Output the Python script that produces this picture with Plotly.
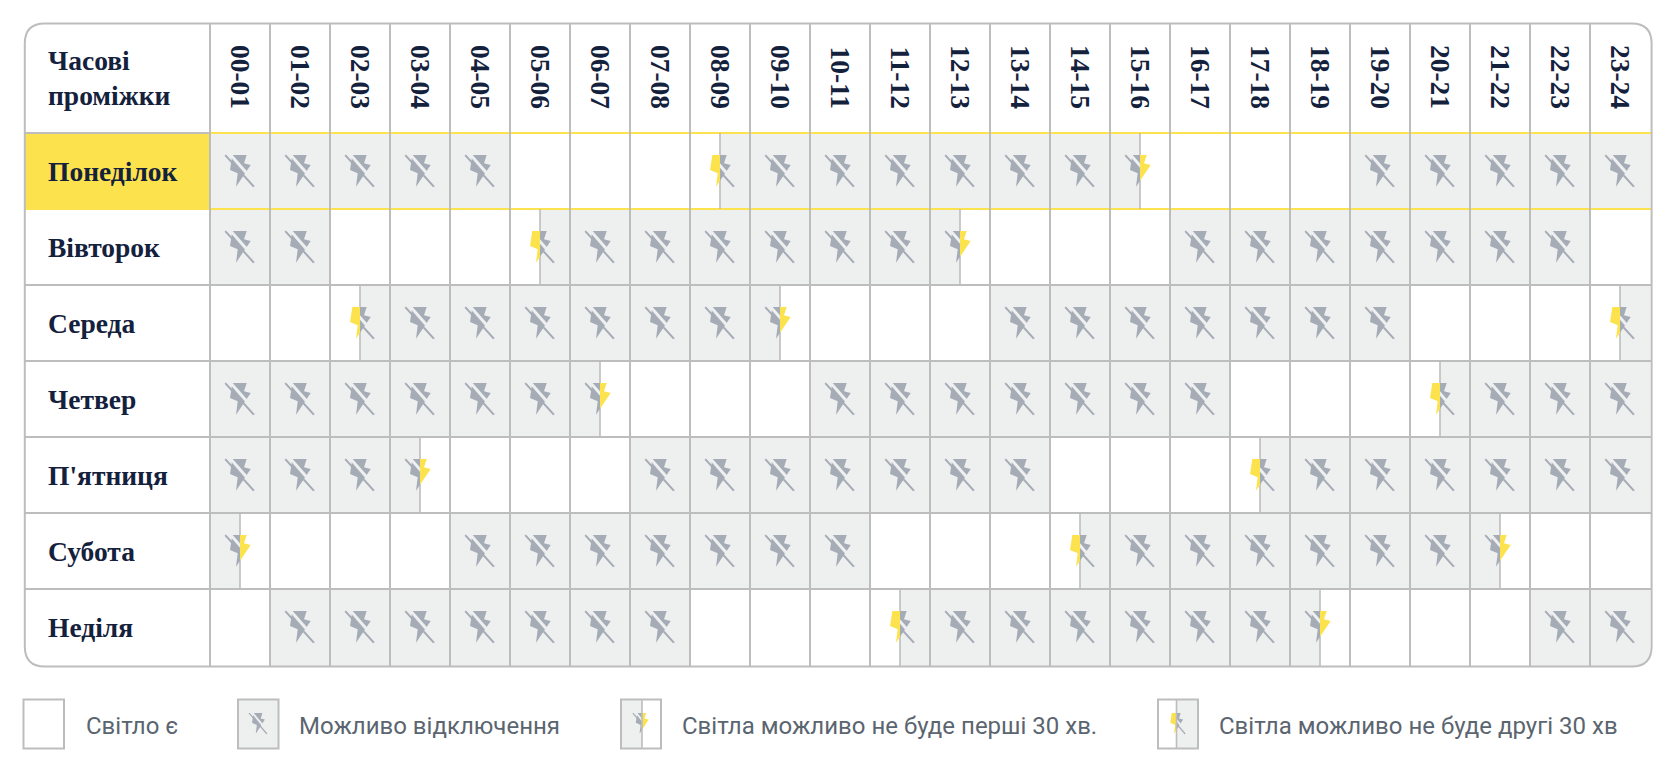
import plotly.graph_objects as go

HOURS = ["00-01","01-02","02-03","03-04","04-05","05-06","06-07","07-08","08-09","09-10","10-11","11-12",
         "12-13","13-14","14-15","15-16","16-17","17-18","18-19","19-20","20-21","21-22","22-23","23-24"]
DAYS = ["Понеділок","Вівторок","Середа","Четвер","П'ятниця","Субота","Неділя"]
HEADER_LINES = ["Часові","проміжки"]
LEGEND_LABELS = ["Світло є","Можливо відключення","Світла можливо не буде перші 30 хв.","Світла можливо не буде другі 30 хв"]

# w = power on, g = possible outage, f = out first 30 min, s = out second 30 min
MON = list("gggggwwwsggggggfwwwggggg")
TUE = list("ggwwwsggggggfwwwgggggggw")
WED = list("wwsggggggfwwwgggggggwwws")
THU = list("ggggggfwwwgggggggwwwsggg")
FRI = list("gggfwwwgggggggwwwsgggggg")
SAT = list("fwwwgggggggwwwsggggggfww")
SUN = list("wgggggggwwwsggggggfwwwgg")
SCHEDULE = [MON, TUE, WED, THU, FRI, SAT, SUN]

W, H = 1678, 776
L, R, T, B = 210, 1650, 133, 667
RH_PX = 76
CW = (R - L) / 24
Y_MAX = (B - T) / RH_PX
GRID, YEL, BG, ICON, NAVY, MUTED = "#bdbdbd", "#fce34d", "#eef0f0", "#a6acb6", "#14213d", "#5b6570"
SERIF, SANS = "Liberation Serif", "Roboto"

BOLT = [(-7.7,-16),(6.7,-16),(4,-7.7),(10.7,-6),(-4,15.7),(-2.3,2.3),(-10,-1)]
SLASH = [(-15.5,-15.2),(-14,-16.4),(14.8,15.2),(13,16.2)]
GAP = [(-12.5,-17.5),(-9.5,-18.5),(16.5,11),(14.5,13.5)]


def px(x): return (x - L) / (R - L)
def py(y): return 1 - (y - T) / (B - T)


def clip(poly, keep_left):
    """Clip a polygon to one side of the vertical line x = 0."""
    out = []
    inside = (lambda p: p[0] <= 0) if keep_left else (lambda p: p[0] >= 0)
    for i, a in enumerate(poly):
        b = poly[(i + 1) % len(poly)]
        if inside(a):
            out.append(a)
        if inside(a) != inside(b):
            t = a[0] / (a[0] - b[0])
            out.append((0, a[1] + t * (b[1] - a[1])))
    return out


def poly_shape(poly, color, conv, xref, yref):
    d = "M " + " L ".join(f"{conv[0](p[0])},{conv[1](p[1])}" for p in poly) + " Z"
    return dict(type="path", path=d, xref=xref, yref=yref, fillcolor=color, line=dict(width=0))


def icon_shapes(state, conv, xref, yref, bg=BG):
    grey_left = state == "f"
    if state == "g":
        polys = [(BOLT, ICON), (GAP, bg), (SLASH, ICON)]
    else:
        polys = [(clip(BOLT, not grey_left), YEL), (clip(BOLT, grey_left), ICON),
                 (clip(GAP, grey_left), bg), (clip(SLASH, grey_left), ICON)]
    return [poly_shape(p, c, conv, xref, yref) for p, c in polys if p]


# half-hour cells
z = []
for row in SCHEDULE:
    cells = []
    for s in row:
        cells += {"w": [0, 0], "g": [1, 1], "f": [1, 0], "s": [0, 1]}[s]
    z.append(cells)

fig = go.Figure(go.Heatmap(
    z=z, x=[i / 2 for i in range(49)], y=[0, 1, 2, 3, 4, 5, 6, Y_MAX],
    colorscale=[[0, "#ffffff"], [1, BG]], zmin=0, zmax=1, showscale=False, hoverinfo="skip"))

shapes = []
# Monday highlight
shapes.append(dict(type="rect", xref="paper", yref="paper", x0=px(24), x1=px(L), y0=py(T), y1=py(T + RH_PX),
                   fillcolor=YEL, line=dict(width=0)))
# horizontal rules
for i in range(2, 7):
    shapes.append(dict(type="line", xref="paper", yref="y", x0=px(24), x1=px(1652), y0=i, y1=i,
                       line=dict(color=GRID, width=2)))
shapes.append(dict(type="line", xref="paper", yref="paper", x0=px(24), x1=px(L), y0=py(T), y1=py(T),
                   line=dict(color=GRID, width=2)))
for i in (0, 1):
    yp = py(T + i * RH_PX)
    shapes.append(dict(type="line", xref="paper", yref="paper", x0=px(24 if i else L), x1=px(1652), y0=yp, y1=yp,
                       line=dict(color=YEL, width=2)))
# vertical rules
for c in range(24):
    shapes.append(dict(type="line", xref="paper", yref="paper", x0=px(L + c * CW), x1=px(L + c * CW),
                       y0=py(23), y1=py(B), line=dict(color=GRID, width=2)))
# half-cell dividers and icons
for r, row in enumerate(SCHEDULE):
    for c, s in enumerate(row):
        if s == "w":
            continue
        y1 = Y_MAX if r == 6 else r + 1
        if s in "fs":
            shapes.append(dict(type="line", x0=c + .5, x1=c + .5, y0=r, y1=y1, xref="x", yref="y",
                               line=dict(color=GRID, width=1.6)))
        cx = c + .5
        cy = r + .5
        conv = (lambda v, cx=cx: cx + v / CW, lambda v, cy=cy: cy + v / RH_PX)
        shapes += icon_shapes(s, conv, "x", "y")

# rounded corner masks and outer border
rad = 20
lft, rgt, top, bot = 24.8, 1651.6, 23.5, 666.6
for cxp, cyp, sx, sy in ((lft, top, -1, -1), (rgt, top, 1, -1), (lft, bot, -1, 1), (rgt, bot, 1, 1)):
    d = (f"M {px(cxp)},{py(cyp - sy * rad)} L {px(cxp + sx * 3)},{py(cyp - sy * rad)} "
         f"L {px(cxp + sx * 3)},{py(cyp + sy * 3)} L {px(cxp - sx * rad)},{py(cyp + sy * 3)} "
         f"L {px(cxp - sx * rad)},{py(cyp)} Q {px(cxp)},{py(cyp)} {px(cxp)},{py(cyp - sy * rad)} Z")
    shapes.append(dict(type="path", path=d, xref="paper", yref="paper", fillcolor="#ffffff", line=dict(width=0)))
border = (f"M {px(lft + rad)},{py(top)} L {px(rgt - rad)},{py(top)} Q {px(rgt)},{py(top)} {px(rgt)},{py(top + rad)} "
          f"L {px(rgt)},{py(bot - rad)} Q {px(rgt)},{py(bot)} {px(rgt - rad)},{py(bot)} "
          f"L {px(lft + rad)},{py(bot)} Q {px(lft)},{py(bot)} {px(lft)},{py(bot - rad)} "
          f"L {px(lft)},{py(top + rad)} Q {px(lft)},{py(top)} {px(lft + rad)},{py(top)} Z")
shapes.append(dict(type="path", path=border, xref="paper", yref="paper", line=dict(color=GRID, width=2)))

# legend swatches: (left, right, divider, state)
LEG_TOP, LEG_BOT = 699.5, 748.5
SWATCHES = [(23.5, 64, None, "w"), (238, 278.5, None, "g"), (621, 661, 642, "f"), (1158, 1198, 1176.5, "s")]
for x0, x1, div, s in SWATCHES:
    fills = {"g": (x0, x1), "f": (x0, div), "s": (div, x1)}
    if s in fills:
        a, b = fills[s]
        shapes.append(dict(type="rect", xref="paper", yref="paper", x0=px(a), x1=px(b), y0=py(LEG_TOP), y1=py(LEG_BOT),
                           fillcolor=BG, line=dict(width=0)))
    if s != "w":
        cx = div if div else (x0 + x1) / 2
        conv = (lambda v, cx=cx: px(cx + v * .62), lambda v: py(723.5 + v * .66))
        shapes += icon_shapes(s, conv, "paper", "paper")
    if div:
        shapes.append(dict(type="line", xref="paper", yref="paper", x0=px(div), x1=px(div), y0=py(LEG_TOP), y1=py(LEG_BOT),
                           line=dict(color=GRID, width=1.6)))
    shapes.append(dict(type="rect", xref="paper", yref="paper", x0=px(x0), x1=px(x1), y0=py(LEG_TOP), y1=py(LEG_BOT),
                       line=dict(color=GRID, width=2)))

annotations = []
for i, d in enumerate(DAYS):
    annotations.append(dict(text=f"<b>{d}</b>", x=px(46), xref="paper", y=i + .5, yref="y", xanchor="left", yanchor="middle",
                            showarrow=False, font=dict(family=SERIF, size=27.5, color=NAVY)))
for t, yy in zip(HEADER_LINES, (60, 96)):
    annotations.append(dict(text=f"<b>{t}</b>", x=px(46), xref="paper", y=py(yy), yref="paper", xanchor="left", yanchor="middle",
                            showarrow=False, font=dict(family=SERIF, size=27.5, color=NAVY)))
for t, xx in zip(LEGEND_LABELS, (83.5, 297, 680, 1217)):
    annotations.append(dict(text=t, x=px(xx), xref="paper", y=py(726), yref="paper", xanchor="left", yanchor="middle",
                            showarrow=False, font=dict(family=SANS, size=24, color=MUTED)))

fig.update_layout(
    width=W, height=H, margin=dict(l=L, r=W - R, t=T, b=H - B, pad=0),
    paper_bgcolor="#ffffff", plot_bgcolor="#ffffff", showlegend=False,
    shapes=shapes, annotations=annotations,
    xaxis=dict(range=[0, 24], side="top", tickmode="array", tickvals=[i + .5 for i in range(24)], ticktext=[f"<b>{h}</b>" for h in HOURS],
               tickangle=90, ticks="", ticklabelstandoff=19, showgrid=False, zeroline=False, showline=False,
               tickfont=dict(family=SERIF, size=27.4, color=NAVY)),
    yaxis=dict(range=[Y_MAX, 0], visible=False, showgrid=False, zeroline=False),
)
fig.write_html("out.html", config=dict(displayModeBar=False),
               post_script="document.body.style.margin='0';document.body.style.overflow='hidden';")
